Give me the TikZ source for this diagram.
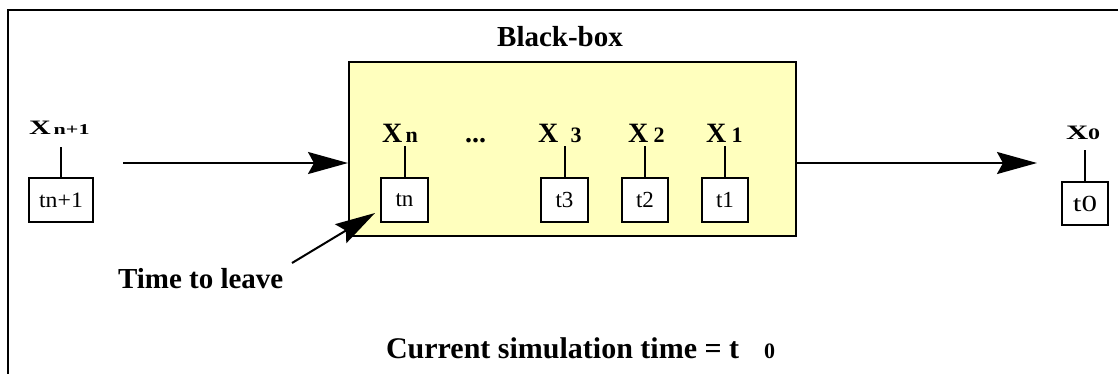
\documentclass[tikz,border=0pt]{standalone}
\usepackage{fontspec}
\setmainfont{Liberation Serif}
\usepackage{graphicx}
\usetikzlibrary{arrows.meta,calc}
\definecolor{bbfill}{RGB}{255,255,190}
\newcommand\fsz[1]{\fontsize{#1}{#1}\selectfont}
\begin{document}
\begin{tikzpicture}[x=1pt,y=-1pt,line width=2pt,
  tbox/.style={draw,fill=white,minimum height=44pt,inner sep=0pt,font=\fsz{23}},
  xlab/.style={anchor=base west,inner sep=0pt,font=\bfseries\fsz{28}},
  arr/.style={-{Stealth[length=40pt,width=22pt,inset=6pt]},line width=2pt},
  big/.style={font=\bfseries\fsz{29},inner sep=0pt}]
\useasboundingbox (0,0) rectangle (1118,373);
\draw (8,380) -- (8,10) -- (1125,10);
% black box
\node[draw,fill=bbfill,minimum width=447pt,minimum height=174pt,inner sep=0pt] (bb) at (572.5,149) {};
\node[big,anchor=base] (title) at (560,46) {Black-box};
% time boxes
\node[tbox,minimum width=47pt] (tn) at (404.5,200) {tn};
\node[tbox,minimum width=47pt] (t3) at (564.5,200) {t3};
\node[tbox,minimum width=46pt] (t2) at (645,200) {t2};
\node[tbox,minimum width=46pt] (t1) at (725,200) {t1};
\node[tbox,minimum width=64pt,font=\fsz{22}] (tn1) at (61,200) {\scalebox{1.08}[1]{tn+1}};
\node[tbox,minimum width=46pt,minimum height=43pt] (t0) at (1085,203.5) {\scalebox{1.35}[1]{t0}};
% stems
\draw (tn.north) -- ++(0,-31);
\draw (t3.north) -- ++(0,-31);
\draw (t2.north) -- ++(0,-31);
\draw (t1.north) -- ++(0,-31);
\draw (tn1.north) -- ++(0,-30);
\draw (t0.north) -- ++(0,-31);
% labels
\node[xlab] (xn) at (381,142) {X\hspace{3.4pt}{\fsz{22}n}};
\node[xlab] (dots) at (464,142) {...};
\node[xlab] (x3) at (537,142) {X\hspace{12.3pt}{\fsz{22}3}};
\node[xlab] (x2) at (627,142) {X\hspace{5.3pt}{\fsz{22}2}};
\node[xlab] (x1) at (705,142) {X\hspace{5.5pt}{\fsz{22}1}};
\node[anchor=base west,inner sep=0pt] (xn1) at (28,134) {\scalebox{1.47}[1]{\bfseries\fsz{20.5}X\hspace{2pt}\fsz{15}n+1}};
\node[anchor=base west,inner sep=0pt] (x0) at (1065,139) {\scalebox{1.5}[1]{\bfseries\fsz{20.5}X\fsz{16}0}};
% texts
\node[big,anchor=base west] (ttl) at (117,288) {Time to leave};
\node[big,anchor=base west,font=\bfseries\fsz{30}] (cur) at (385,358) {Current simulation time = t\hspace{25pt}{\fsz{22}0}};
% arrows
\coordinate (inL) at (123,163);
\draw[arr] (inL) -- (inL -| bb.west);
\coordinate (outR) at (1037,163);
\draw[arr] (outR -| bb.east) -- (outR);
\coordinate (ttlstart) at (292,263);
\coordinate (ttltip) at ($(tn.south west)+(-5,-10)$);
\draw[arr] (ttlstart) -- (ttltip);
\end{tikzpicture}
\end{document}
